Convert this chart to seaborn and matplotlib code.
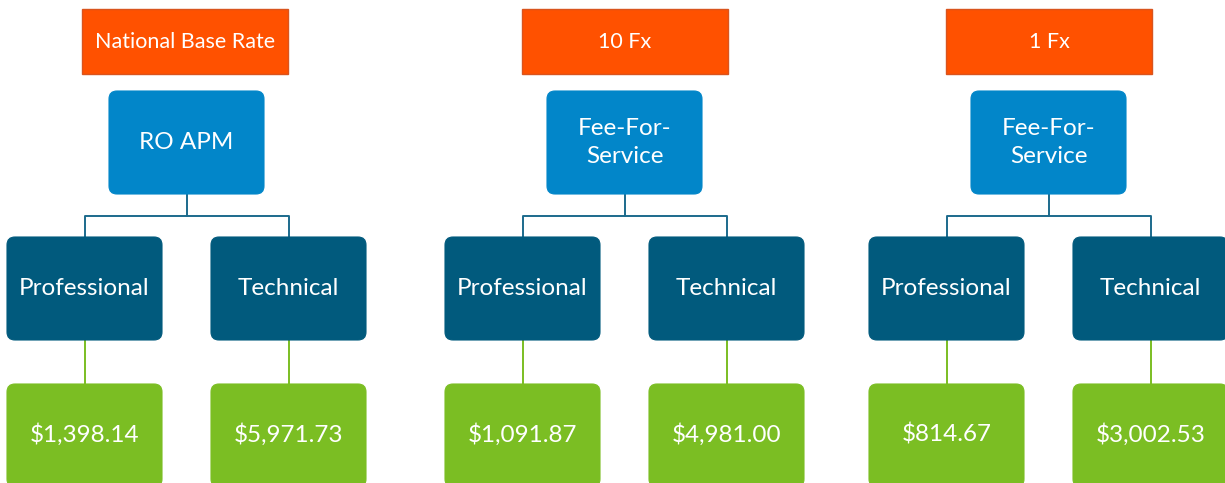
import matplotlib
matplotlib.use("Agg")
import matplotlib.pyplot as plt
from matplotlib.patches import FancyBboxPatch, Rectangle
import seaborn as sns
import pandas as pd

# ---- data ----
rate_labels = ["National Base Rate", "10 Fx", "1 Fx"]
model_labels = ["RO APM", "Fee-For-\nService", "Fee-For-\nService"]
component_labels = ["Professional", "Technical"]
professional_values = [1398.14, 1091.87, 814.67]
technical_values = [5971.73, 4981.00, 3002.53]

sns.set_theme(style="white")
plt.rcParams["font.family"] = ["Lato", "DejaVu Sans"]

W, H = 1225, 483
fig = plt.figure(figsize=(W / 100, H / 100), dpi=100)
ax = fig.add_axes([0, 0, 1, 1])
ax.set_xlim(0, W)
ax.set_ylim(H, 0)
ax.axis("off")

ORANGE = "#FF5100"
ORANGE_EDGE = "#D9541E"
BLUE = "#0286C9"
DARK = "#015A7D"
GREEN = "#7BBE23"
LINE_BLUE = "#1C6A8C"

group_left = [7, 445, 869]
orange_left = [82, 522, 946]
box_w, box_h = 155, 103
gap = 49
orange_w, orange_top, orange_h = 206, 9, 65
blue_dx, blue_top = 102, 91
dark_top = 237
green_top = 384
bar_y = 216
R = 8

def rbox(x, y, w, h, color, ec=None):
    p = FancyBboxPatch((x + R, y + R), w - 2 * R, h - 2 * R,
                       boxstyle=f"round,pad={R}", fc=color,
                       ec=ec if ec else color, lw=0.8, zorder=3)
    ax.add_patch(p)

def fmt(v):
    return f"${v:,.2f}"

lines = []
for g, gx in enumerate(group_left):
    # orange header
    ox = orange_left[g]
    ax.add_patch(Rectangle((ox, orange_top), orange_w, orange_h,
                           fc=ORANGE, ec=ORANGE_EDGE, lw=1, zorder=3))
    ax.text(ox + orange_w / 2, orange_top + orange_h / 2 + 1,
            rate_labels[g], color="white", fontsize=15.5,
            ha="center", va="center", zorder=4)
    # blue model box
    bx = gx + blue_dx
    rbox(bx, blue_top, box_w, box_h, BLUE)
    ax.text(bx + box_w / 2, blue_top + box_h / 2, model_labels[g],
            color="white", fontsize=17.5, ha="center", va="center",
            linespacing=1.4, zorder=4)
    cx_parent = bx + box_w / 2
    vals = [professional_values[g], technical_values[g]]
    children = []
    for k in range(2):
        cx = gx + k * (box_w + gap)
        children.append(cx + box_w / 2)
        rbox(cx, dark_top, box_w, box_h, DARK)
        ax.text(cx + box_w / 2, dark_top + box_h / 2, component_labels[k],
                color="white", fontsize=17.5, ha="center", va="center", zorder=4)
        rbox(cx, green_top, box_w, box_h, GREEN)
        ax.text(cx + box_w / 2, green_top + 51, fmt(vals[k]),
                color="white", fontsize=17.5, ha="center", va="center", zorder=4)
        lines.append(pd.DataFrame({"x": [cx + box_w / 2] * 2,
                                   "y": [dark_top + box_h, green_top],
                                   "seg": f"g{g}{k}", "c": "green"}))
    # connectors
    lines.append(pd.DataFrame({"x": [cx_parent, cx_parent], "y": [blue_top + box_h, bar_y],
                               "seg": f"p{g}", "c": "blue"}))
    lines.append(pd.DataFrame({"x": [children[0], children[0], children[1], children[1]],
                               "y": [dark_top, bar_y, bar_y, dark_top],
                               "seg": f"h{g}", "c": "blue"}))

df = pd.concat(lines, ignore_index=True)
for seg, d in df.groupby("seg", sort=False):
    col = GREEN if d["c"].iloc[0] == "green" else LINE_BLUE
    sns.lineplot(data=d, x="x", y="y", sort=False, estimator=None, ax=ax,
                 color=col, lw=1.4, zorder=2, legend=False)

ax.set_xlim(0, W)
ax.set_ylim(H, 0)
ax.axis("off")
fig.savefig("out.png", dpi=100, facecolor="white")
